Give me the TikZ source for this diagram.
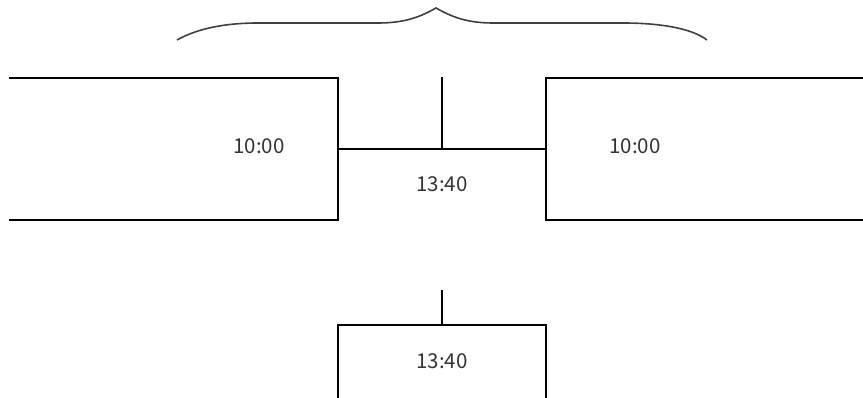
\documentclass[tikz,border=0pt]{standalone}
\usepackage{fontspec}
\newfontfamily\labelfont{Noto Sans CJK JP}
\begin{document}
\begin{tikzpicture}[x=1pt,y=-1pt,
  edge/.style={line width=2pt, black, line cap=rect},
  lbl/.style={font=\labelfont\fontsize{20.5}{22}\selectfont, text=black!80, inner sep=0pt, anchor=center},
  bracestyle/.style={line width=1.6pt, black!75}]
\useasboundingbox (0,0) rectangle (863,398);
% corner coordinates
\coordinate (LTa) at (10,78);
\coordinate (LTb) at (338,78);
\coordinate (LBa) at (10,220);
\coordinate (LBb) at (338,220);
\coordinate (RTa) at (546,78);
\coordinate (RTb) at (863,78);
\coordinate (RBa) at (546,220);
\coordinate (RBb) at (863,220);
\coordinate (MJ) at (442,149);
\coordinate (ML) at (338,149);
\coordinate (MR) at (546,149);
\coordinate (MT) at (442,78);
\coordinate (BT) at (442,291);
\coordinate (BJ) at (442,325);
\coordinate (BL) at (338,325);
\coordinate (BR) at (546,325);
\coordinate (BLb) at (338,398);
\coordinate (BRb) at (546,398);
% left box
\draw[edge] (LTa) -- (LTb) -- (LBb) -- (LBa);
% right box
\draw[edge] (RTb) -- (RTa) -- (RBa) -- (RBb);
% middle
\draw[edge] (ML) -- (MR);
\draw[edge] (MT) -- (MJ);
% bottom
\draw[edge] (BT) -- (BJ);
\draw[edge] (BLb) -- (BL) -- (BR) -- (BRb);
% labels
\node[lbl] (t1) at (259,146) {10:00};
\node[lbl] (t2) at (635,146) {10:00};
\node[lbl] (t3) at (442,184) {13:40};
\node[lbl] (t4) at (442,361) {13:40};
% brace
\coordinate (BrL) at (177,40);
\coordinate (BrR) at (707,40);
\coordinate (BrT) at (436,8);
\draw[bracestyle] (BrL) .. controls (200,27) and (230,23) .. (258,23)
  -- (378,23) .. controls (405,23) and (420,17) .. (BrT)
  .. controls (452,17) and (467,23) .. (493,23)
  -- (623,23) .. controls (655,23) and (690,27) .. (BrR);
\end{tikzpicture}
\end{document}
